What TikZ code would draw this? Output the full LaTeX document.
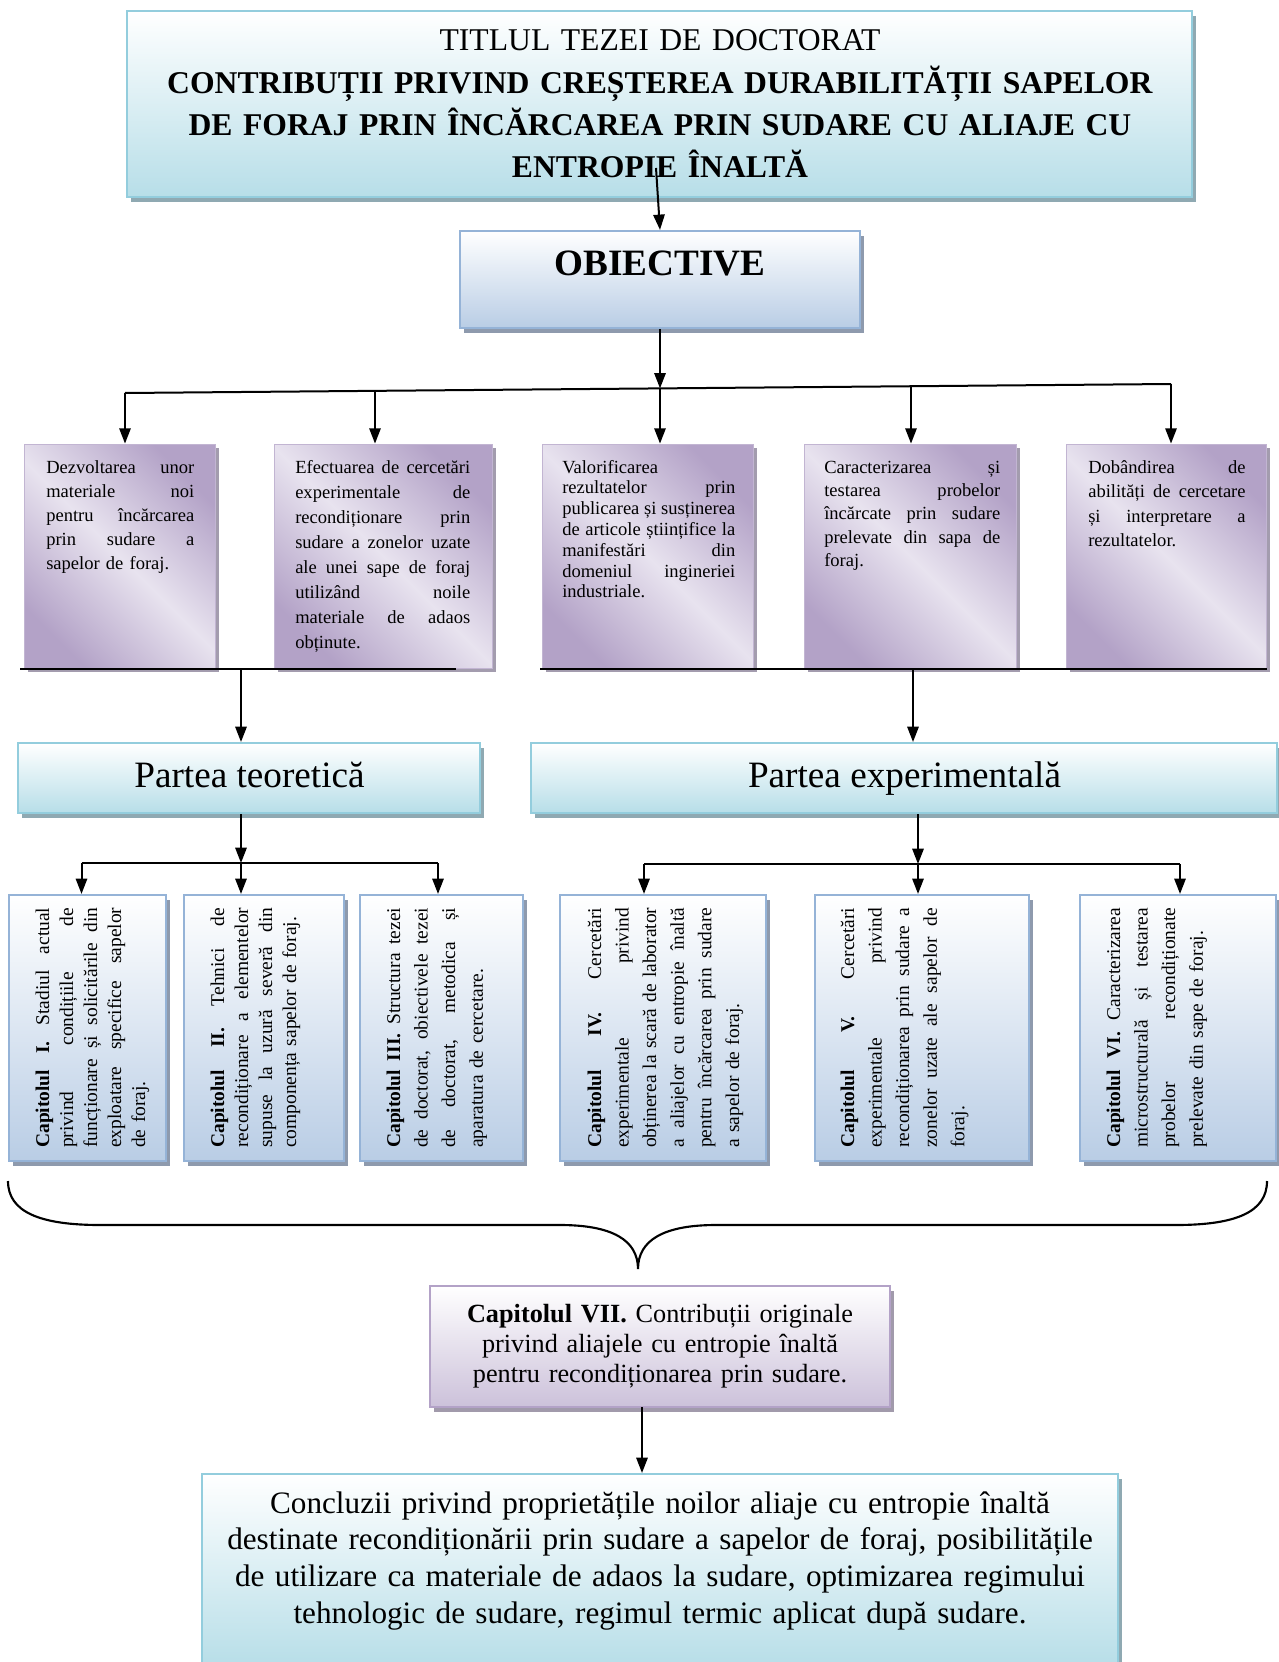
\documentclass[tikz,border=0pt]{standalone}
\usepackage{fontspec}
\setmainfont{Liberation Serif}
\usetikzlibrary{arrows.meta,shadows}
\definecolor{tealfill}{HTML}{B7DEE8}
\definecolor{tealborder}{HTML}{93CDDD}
\definecolor{tealshadow}{HTML}{8FA9B2}
\definecolor{bluefill}{HTML}{B9CDE5}
\definecolor{blueborder}{HTML}{95B3D7}
\definecolor{blueshadow}{HTML}{8E9AAD}
\definecolor{pdark}{HTML}{B3A2C7}
\definecolor{plight}{HTML}{E8E3EF}
\definecolor{pshadow}{HTML}{A39CAE}
\definecolor{vfill}{HTML}{CCC1DA}
\definecolor{vborder}{HTML}{B3A2C7}
\definecolor{vshadow}{HTML}{A19AAB}
\newdimen\jlw
\newcommand\setjl[1]{\global\jlw=#1\relax}
\newcommand\jl[1]{\hbox to\jlw{\spaceskip=.25em plus 1fil\relax #1}}
\newcommand\lastl[1]{\hbox to\jlw{#1\hfil}}
\newcommand\mkbox[6]{%
  \pgfmathsetmacro\bxw{((#4)-(#2))*0.75}%
  \pgfmathsetmacro\bxh{((#5)-(#3))*0.75}%
  \node[#1,minimum width=\bxw pt,minimum height=\bxh pt,inner sep=0pt] (#6) at ({((#2)+(#4))/2},{((#3)+(#5))/2}) {};}
\tikzset{
  arr/.style={line width=1.5pt,-{Triangle[length=11.5pt,width=8.5pt]}},
  ln/.style={line width=1.5pt},
  tealbox/.style={draw=tealborder,line width=1.5pt,top color=white,bottom color=tealfill,
    general shadow={fill=tealshadow,shadow xshift=3pt,shadow yshift=-3.5pt}},
  bluebox/.style={draw=blueborder,line width=1.6pt,top color=white,bottom color=bluefill,
    general shadow={fill=blueshadow,shadow xshift=3pt,shadow yshift=-3.5pt}},
  purplebox/.style={draw=pdark!80,line width=0.6pt,top color=pdark,bottom color=pdark,middle color=plight,
    shading angle=-45,general shadow={fill=pshadow,shadow xshift=3pt,shadow yshift=-3pt}},
  violetbox/.style={draw=vborder,line width=1.5pt,top color=white,bottom color=vfill,
    general shadow={fill=vshadow,shadow xshift=3pt,shadow yshift=-3.5pt}},
  otext/.style={anchor=base west,inner sep=0pt},
  ctext/.style={rotate=90,anchor=base west,inner sep=0pt,text width=180pt},
  mtext/.style={anchor=base,inner sep=0pt,align=center},
}
\begin{document}
\begin{tikzpicture}[x=0.75pt,y=-0.75pt]
\useasboundingbox (0,0) rectangle (1278,1662);
% ---------- boxes ----------
\mkbox{tealbox}{127}{11}{1192}{197}{title}
\mkbox{bluebox}{460}{231}{860}{328}{obj}
\mkbox{purplebox}{24}{444}{215}{668}{o1}
\mkbox{purplebox}{274}{444}{492}{668}{o2}
\mkbox{purplebox}{542}{444}{753}{668}{o3}
\mkbox{purplebox}{804}{444}{1016}{668}{o4}
\mkbox{purplebox}{1066}{444}{1266}{668}{o5}
\mkbox{tealbox}{18}{743}{480}{813}{pt}
\mkbox{tealbox}{531}{743}{1277}{813}{pe}
\mkbox{bluebox}{9}{895}{166}{1161}{c1}
\mkbox{bluebox}{184}{895}{344}{1161}{c2}
\mkbox{bluebox}{360}{895}{523}{1161}{c3}
\mkbox{bluebox}{560}{895}{766}{1161}{c4}
\mkbox{bluebox}{815}{895}{1029}{1161}{c5}
\mkbox{bluebox}{1080}{895}{1276}{1161}{c6}
\mkbox{violetbox}{430}{1286}{890}{1407}{c7}
\mkbox{tealbox}{202}{1474}{1118}{1666}{cc}
% ---------- texts ----------
\node[mtext,text width=795pt,font=\fontsize{23.75}{31.65}\selectfont] (titletxt) at (660,51)
 {TITLUL TEZEI DE DOCTORAT\\
  \textbf{CONTRIBUȚII PRIVIND CREȘTEREA DURABILITĂȚII SAPELOR}\\
  \textbf{DE FORAJ PRIN ÎNCĂRCAREA PRIN SUDARE CU ALIAJE CU}\\
  \textbf{ENTROPIE ÎNALTĂ}};
\node[mtext,font=\fontsize{27.9}{33}\selectfont\bfseries] (objtxt) at (660,276) {OBIECTIVE};
\node[otext,text width=111pt,font=\fontsize{13.9}{18.15}\selectfont] (o1t) at (46,473)
 {\setjl{111pt}%
  \jl{Dezvoltarea unor}
  \jl{materiale noi}
  \jl{pentru încărcarea}
  \jl{prin sudare a}
  \lastl{sapelor de foraj.}};
\node[otext,text width=131.25pt,font=\fontsize{13.9}{18.75}\selectfont] (o2t) at (295,473)
 {\setjl{131.25pt}%
  \jl{Efectuarea de cercetări}
  \jl{experimentale de}
  \jl{recondiționare prin}
  \jl{sudare a zonelor uzate}
  \jl{ale unei sape de foraj}
  \jl{utilizând noile}
  \jl{materiale de adaos}
  \lastl{obținute.}};
\node[otext,text width=129.75pt,font=\fontsize{13.9}{15.6}\selectfont] (o3t) at (562,473)
 {\setjl{129.75pt}%
  \lastl{Valorificarea}
  \jl{rezultatelor prin}
  \jl{publicarea și susținerea}
  \jl{de articole științifice la}
  \jl{manifestări din}
  \jl{domeniul ingineriei}
  \lastl{industriale.}};
\node[otext,text width=132pt,font=\fontsize{13.9}{17.5}\selectfont] (o4t) at (824,473)
 {\setjl{132pt}%
  \jl{Caracterizarea și}
  \jl{testarea probelor}
  \jl{încărcate prin sudare}
  \jl{prelevate din sapa de}
  \lastl{foraj.}};
\node[otext,text width=118pt,font=\fontsize{13.9}{18.4}\selectfont] (o5t) at (1088,473)
 {\setjl{118pt}%
  \jl{Dobândirea de}
  \jl{abilități de cercetare}
  \jl{și interpretare a}
  \lastl{rezultatelor.}};
\node[mtext,font=\fontsize{27.9}{33}\selectfont] (pttxt) at (249.5,787) {Partea teoretică};
\node[mtext,font=\fontsize{27.9}{33}\selectfont] (petxt) at (904.5,787) {Partea experimentală};
\node[ctext,font=\fontsize{14.6}{18}\selectfont] (c1t) at (49,1148)
 {\setjl{180pt}%
  \jl{\textbf{Capitolul I.} Stadiul actual}
  \jl{privind condițiile de}
  \jl{funcționare și solicitările din}
  \jl{exploatare specifice sapelor}
  \lastl{de foraj.}};
\node[ctext,font=\fontsize{14.6}{18}\selectfont] (c2t) at (224,1148)
 {\setjl{180pt}%
  \jl{\textbf{Capitolul II.} Tehnici de}
  \jl{recondiționare a elementelor}
  \jl{supuse la uzură severă din}
  \lastl{componența sapelor de foraj.}};
\node[ctext,font=\fontsize{14.6}{20.7}\selectfont] (c3t) at (400,1148)
 {\setjl{180pt}%
  \jl{\textbf{Capitolul III.} Structura tezei}
  \jl{de doctorat, obiectivele tezei}
  \jl{de doctorat, metodica și}
  \lastl{aparatura de cercetare.}};
\node[ctext,font=\fontsize{14.6}{20.7}\selectfont] (c4t) at (601,1148)
 {\setjl{180pt}%
  \jl{\textbf{Capitolul IV.} Cercetări}
  \jl{experimentale privind}
  \jl{obținerea la scară de laborator}
  \jl{a aliajelor cu entropie înaltă}
  \jl{pentru încărcarea prin sudare}
  \lastl{a sapelor de foraj.}};
\node[ctext,font=\fontsize{14.6}{20.7}\selectfont] (c5t) at (854,1148)
 {\setjl{180pt}%
  \jl{\textbf{Capitolul V.} Cercetări}
  \jl{experimentale privind}
  \jl{recondiționarea prin sudare a}
  \jl{zonelor uzate ale sapelor de}
  \lastl{foraj.}};
\node[ctext,font=\fontsize{14.6}{20.7}\selectfont] (c6t) at (1120,1148)
 {\setjl{180pt}%
  \jl{\textbf{Capitolul VI.} Caracterizarea}
  \jl{microstructurală și testarea}
  \jl{probelor recondiționate}
  \lastl{prelevate din sape de foraj.}};
\node[mtext,text width=330pt,font=\fontsize{19.7}{22.5}\selectfont] (c7t) at (660,1322)
 {\textbf{Capitolul VII.} Contribuții originale\\
  privind aliajele cu entropie înaltă\\
  pentru recondiționarea prin sudare.};
\node[mtext,text width=675pt,font=\fontsize{23.4}{27.5}\selectfont] (cctxt) at (660,1513)
 {Concluzii privind proprietățile noilor aliaje cu entropie înaltă\\
  destinate recondiționării prin sudare a sapelor de foraj, posibilitățile\\
  de utilizare ca materiale de adaos la sudare, optimizarea regimului\\
  tehnologic de sudare, regimul termic aplicat după sudare.};
% ---------- connectors ----------
\coordinate (t0) at (656,168);
\draw[arr] (t0) -- (obj.north);
\coordinate (h1) at (125,393);
\coordinate (h2) at (375,390.8);
\coordinate (hc) at (660,388.4);
\coordinate (h4) at (911,386.2);
\coordinate (h5) at (1171,384);
\draw[ln] (h1) -- (h5);
\draw[arr] (obj.south) -- (hc);
\draw[arr] (h1) -- (h1 |- o1.north);
\draw[arr] (h2) -- (h2 |- o2.north);
\draw[arr] (hc) -- (hc |- o3.north);
\draw[arr] (h4) -- (h4 |- o4.north);
\draw[arr] (h5) -- (h5 |- o5.north);
% bottom lines of objectives
\coordinate (bl1) at (20,669);
\coordinate (bl2) at (456,669);
\coordinate (bm1) at (241,669);
\coordinate (br1) at (540,669);
\coordinate (br2) at (1267,669);
\coordinate (bm2) at (913,669);
\draw[ln] (bl1) -- (bl2);
\draw[ln] (br1) -- (br2);
\draw[arr] (bm1) -- (bm1 |- pt.north);
\draw[arr] (bm2) -- (bm2 |- pe.north);
% theoretical part
\coordinate (ht) at (241,863);
\coordinate (ht1) at (81.5,863);
\coordinate (ht3) at (438,863);
\draw[arr] (ht |- pt.south) -- (ht);
\draw[ln] (ht1) -- (ht3);
\draw[arr] (ht1) -- (ht1 |- c1.north);
\draw[arr] (ht) -- (ht |- c2.north);
\draw[arr] (ht3) -- (ht3 |- c3.north);
% experimental part
\coordinate (he) at (918,864);
\coordinate (he1) at (644,864);
\coordinate (he3) at (1180,864);
\draw[arr] (he |- pe.south) -- (he);
\draw[ln] (he1) -- (he3);
\draw[arr] (he1) -- (he1 |- c4.north);
\draw[arr] (he) -- (he |- c5.north);
\draw[arr] (he3) -- (he3 |- c6.north);
% brace
\draw[line width=1.6pt] (8,1181) .. controls (8,1212) and (40,1225) .. (100,1225) -- (560,1225)
  .. controls (612,1225) and (638,1240) .. (638,1269)
  .. controls (638,1240) and (664,1225) .. (716,1225) -- (1176,1225)
  .. controls (1236,1225) and (1267,1212) .. (1267,1181);
% chapter VII to conclusions
\coordinate (k1) at (642,1407);
\draw[arr] (k1) -- (k1 |- cc.north);
\end{tikzpicture}
\end{document}
